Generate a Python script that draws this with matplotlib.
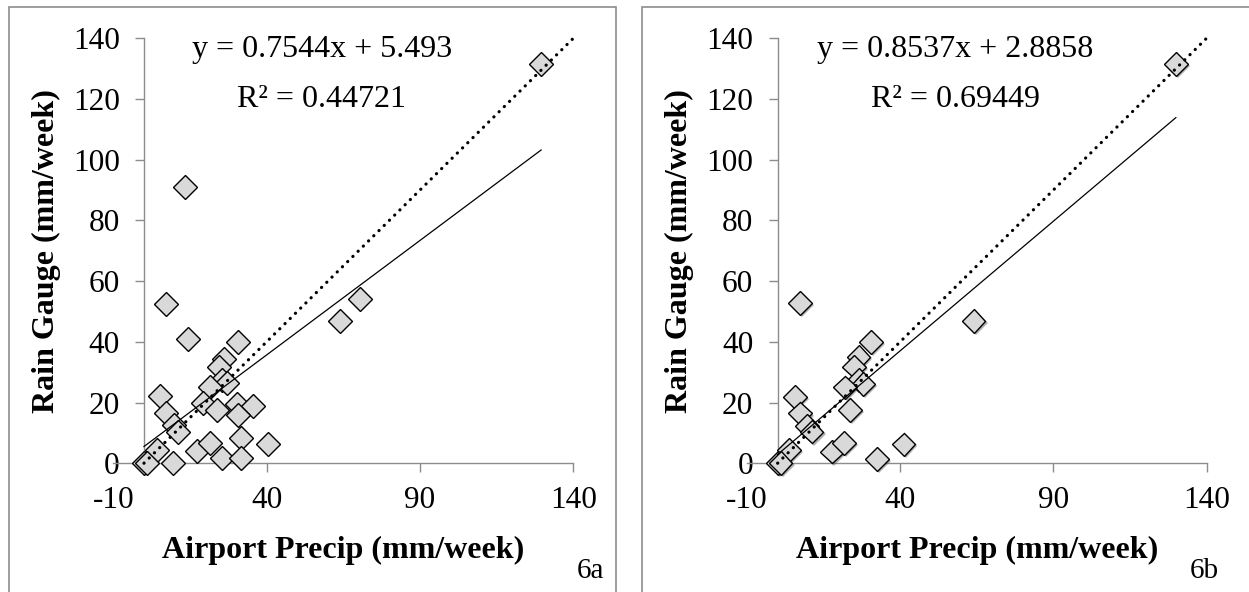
import matplotlib.pyplot as plt
import matplotlib.patheffects as pe
from matplotlib.patches import Rectangle
import numpy as np

plt.rcParams['font.family'] = ['Liberation Serif', 'DejaVu Serif']
plt.rcParams['axes.unicode_minus'] = False

# panel 6a: all weeks
airport_a = [13.4, 7.2, 14.4, 30.8, 26.1, 24.5, 25.6, 27.0, 21.5, 19.3, 23.7, 30.2, 35.6, 30.8,
             5.2, 7.2, 9.9, 11.0, 31.6, 40.5, 17.4, 21.5, 4.1, 0.0, 1.0, 9.6, 25.6, 31.8,
             63.9, 70.4, 129.5]
gauge_a = [91.1, 52.5, 40.8, 40.0, 34.3, 31.8, 27.4, 26.3, 25.0, 19.7, 17.5, 19.5, 18.8, 15.9,
           22.1, 16.4, 12.6, 10.4, 8.2, 6.2, 4.0, 6.5, 4.3, 0.0, 0.0, 0.0, 1.6, 1.6,
           46.9, 54.1, 131.5]
slope_a, icpt_a, r2_a = 0.7544, 5.493, '0.44721'

# panel 6b: subset
airport_b = [7.3, 30.4, 26.4, 25.0, 26.4, 28.0, 22.0, 23.7, 5.7, 7.3, 9.5, 11.1, 17.7, 21.7,
             32.4, 41.1, 3.8, 0.0, 1.0, 64.0, 130.0]
gauge_b = [52.7, 40.0, 34.9, 31.8, 27.4, 26.1, 25.0, 17.5, 21.9, 16.4, 12.3, 10.4, 3.8, 6.6,
           1.3, 6.2, 4.3, 0.0, 0.0, 46.9, 131.5]
slope_b, icpt_b, r2_b = 0.8537, 2.8858, '0.69449'

xticks = [-10, 40, 90, 140]
yticks = [0, 20, 40, 60, 80, 100, 120, 140]

W, H = 1249, 592
fig = plt.figure(figsize=(W / 100, H / 100), dpi=100)

# panel borders
grey = '#8c8c8c'
fig.patches.append(Rectangle((9 / W, -0.01), (616 - 9) / W, 1.01 - 7 / H, transform=fig.transFigure,
                             fill=False, ec=grey, lw=1.2))
fig.patches.append(Rectangle((642 / W, -0.01), (1252 - 642) / W, 1.01 - 7 / H, transform=fig.transFigure,
                             fill=False, ec=grey, lw=1.2))


def panel(rect, xs, ys, slope, icpt, r2, tag, tagx, shadow):
    ax = fig.add_axes(rect)
    ax.set_xlim(-10, 140)
    ax.set_ylim(0, 140)
    ax.set_xticks(xticks)
    ax.set_yticks(yticks)
    for s in ['top', 'right']:
        ax.spines[s].set_visible(False)
    for s in ['left', 'bottom']:
        ax.spines[s].set_color(grey)
        ax.spines[s].set_linewidth(1)
    ax.spines['left'].set_position(('data', 0))
    ax.tick_params(axis='both', direction='out', color=grey, length=6.5, width=1,
                   labelsize=22.5, labelcolor='black')
    ax.tick_params(axis='x', pad=10)
    ax.tick_params(axis='y', pad=11)
    ax.xaxis.get_major_ticks()[0].tick1line.set_visible(False)

    effects = None
    if shadow:
        effects = [pe.SimplePatchShadow(offset=(1.5, -1.5), shadow_rgbFace='#555555', alpha=0.45),
                   pe.Normal()]
    ax.plot(xs, ys, 'D', ms=12, mfc='#d9d9d9', mec='black', mew=1, clip_on=False, zorder=3,
            path_effects=effects)

    # 1:1 line
    ax.plot([0, 140], [0, 140], color='black', lw=2.3, ls=(0, (0.05, 2.25)),
            dash_capstyle='round', clip_on=False, zorder=4)
    # regression line
    xl = np.array([min(xs), max(xs)])
    ax.plot(xl, slope * xl + icpt, color='black', lw=0.9, zorder=4)

    ax.text(0.4535, 0.956, f'y = {slope}x + {icpt}', transform=ax.transAxes,
            ha='center', va='baseline', fontsize=23)
    ax.text(0.4535, 0.838, f'R² = {r2}', transform=ax.transAxes,
            ha='center', va='baseline', fontsize=23)

    ax.set_xlabel('Airport Precip (mm/week)', fontsize=23, fontweight='bold', va='baseline')
    ax.xaxis.set_label_coords(0.5, -0.223)
    ax.set_ylabel('Rain Gauge (mm/week)', fontsize=23, fontweight='bold', va='center')
    ax.yaxis.set_label_coords(-0.146, 0.5)

    fig.text(tagx, 0.024, tag, ha='center', va='baseline', fontsize=21)
    return ax


bottom = (H - 463.2) / H
height = 424.9 / H
panel([113.3 / W, bottom, 460 / W, height], airport_a, gauge_a, slope_a, icpt_a, r2_a,
      '6a', 591 / W, False)
panel([747 / W, bottom, 459.5 / W, height], airport_b, gauge_b, slope_b, icpt_b, r2_b,
      '6b', 1204 / W, True)

fig.savefig('out.png', dpi=100)
